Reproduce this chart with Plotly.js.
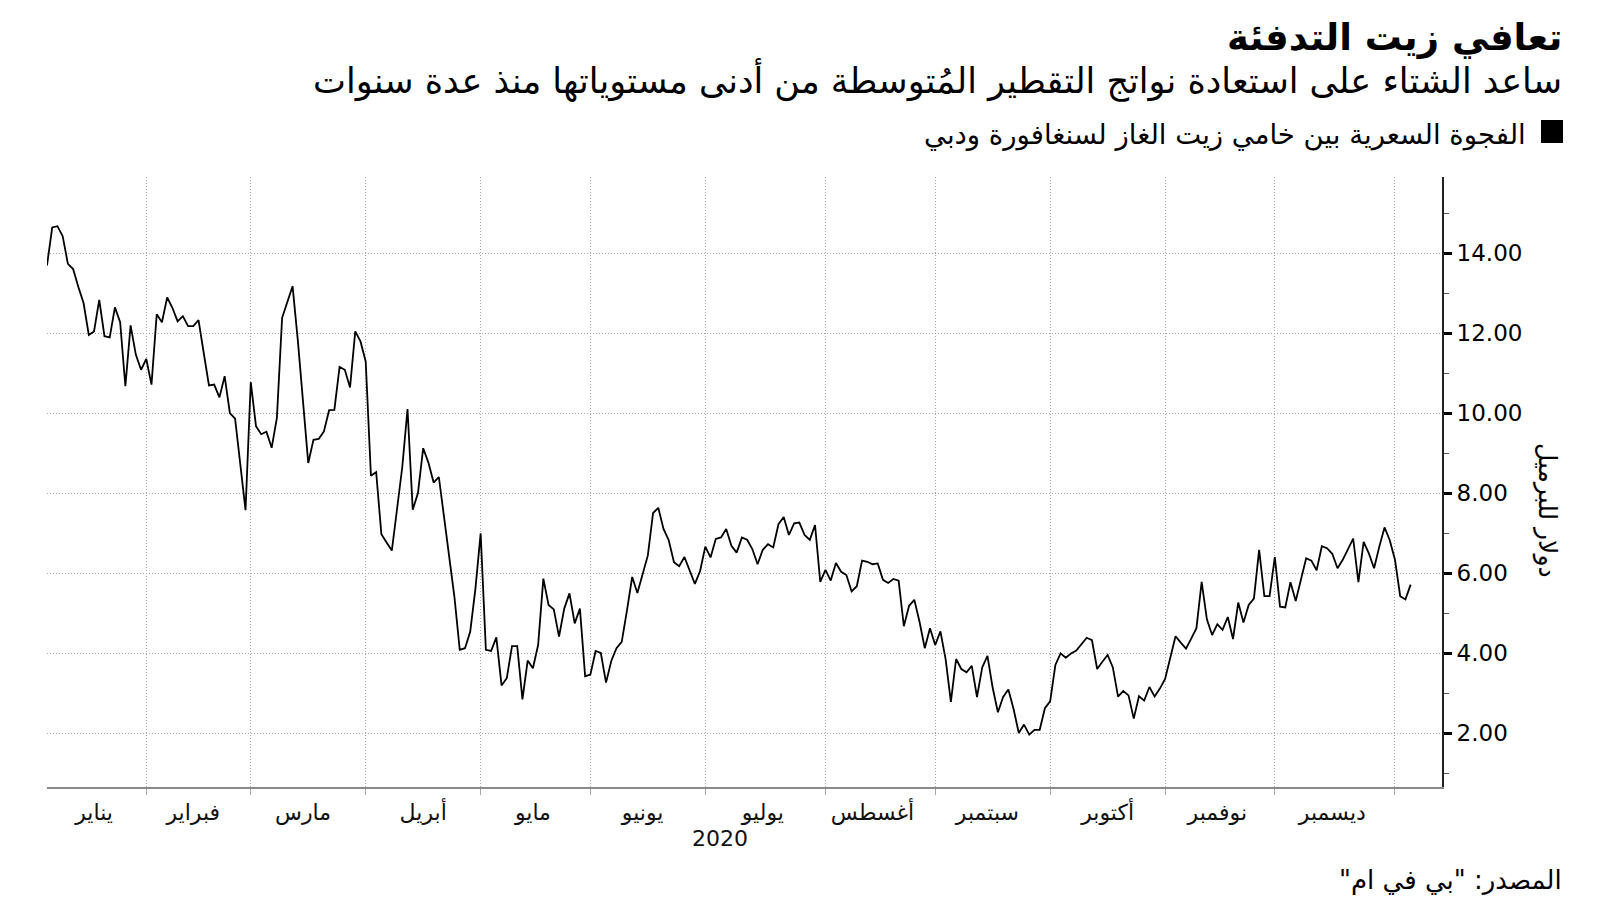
<!DOCTYPE html>
<html>
<head>
<meta charset="utf-8">
<script src="https://cdn.plot.ly/plotly-3.0.1.min.js"></script>
<style>html,body{margin:0;padding:0;background:#fff;}#chart{width:1600px;height:900px;}</style>
</head>
<body>
<div id="chart"></div>
<script>
// Singapore gasoil vs Dubai crude spread (USD/bbl), one value per trading day, starting 2020-01-07
const startDate = '2020-01-07';
const jan20 = [13.69,14.64,14.67,14.42,13.73,13.6,13.15,12.75,11.95,12.04,12.83,11.92,11.89,12.64,12.27,10.67,12.19,11.46,11.08];
const feb20 = [11.35,10.71,12.47,12.27,12.89,12.63,12.29,12.42,12.17,12.17,12.32,11.5,10.69,10.71,10.39,10.92,10.0,9.86,8.67,7.57];
const mar20 = [10.77,9.67,9.47,9.53,9.13,9.88,12.38,12.75,13.17,11.83,10.33,8.75,9.33,9.35,9.54,10.07,10.08,11.15,11.08,10.64,12.04,11.79];
const apr20 = [11.29,8.43,8.52,6.97,6.76,6.56,7.6,8.65,10.1,7.58,8.0,9.12,8.76,8.26,8.4,7.35,6.31,5.38,4.08,4.12,4.53,5.61];
const may20 = [6.99,4.08,4.05,4.39,3.19,3.37,4.17,4.17,2.84,3.81,3.62,4.2,5.86,5.2,5.09,4.41,5.11,5.49,4.74,5.11,3.42];
const jun20 = [3.46,4.05,4.0,3.26,3.8,4.12,4.28,5.06,5.9,5.5,5.95,6.44,7.5,7.63,7.1,6.82,6.27,6.17,6.4,6.04,5.73,6.05];
const jul20 = [6.66,6.39,6.85,6.89,7.1,6.68,6.51,6.89,6.83,6.6,6.22,6.58,6.72,6.64,7.22,7.4,6.95,7.24,7.26,6.95,6.83,7.2,5.78];
const aug20 = [6.08,5.81,6.25,6.03,5.95,5.54,5.67,6.31,6.28,6.22,6.24,5.83,5.75,5.85,5.81,4.67,5.18,5.33,4.78,4.12,4.62];
const sep20 = [4.2,4.54,3.84,2.78,3.85,3.6,3.52,3.68,2.9,3.64,3.93,3.13,2.52,2.9,3.09,2.6,2.0,2.21,1.96,2.08,2.08,2.62];
const oct20 = [2.79,3.7,3.99,3.88,3.99,4.06,4.22,4.38,4.32,3.6,3.78,3.95,3.64,2.91,3.05,2.94,2.36,2.92,2.81,3.15,2.91,3.11];
const nov20 = [3.35,3.85,4.42,4.26,4.11,4.36,4.62,5.78,4.84,4.45,4.72,4.58,4.9,4.35,5.26,4.76,5.2,5.36,6.58,5.42,5.42];
const dec20 = [6.4,5.16,5.14,5.77,5.3,5.84,6.37,6.31,6.07,6.67,6.62,6.48,6.12,6.33,6.58,6.86,5.77,6.78,6.49,6.12,6.66,7.14,6.82];
const jan21 = [6.33,5.42,5.34,5.71];

const monthNames = ['يناير','فبراير','مارس','أبريل','مايو','يونيو','يوليو','أغسطس','سبتمبر','أكتوبر','نوفمبر','ديسمبر'];
const monthMid = ['2020-01-20','2020-02-14','2020-03-16','2020-04-16','2020-05-15','2020-06-15','2020-07-16','2020-08-14','2020-09-15','2020-10-16','2020-11-16','2020-12-16'];
const monthStarts = ['2020-02-03','2020-03-02','2020-04-01','2020-05-01','2020-06-01','2020-07-01','2020-08-03','2020-09-01','2020-10-01','2020-11-02','2020-12-01','2021-01-01'];
const yMajor = [2,4,6,8,10,12,14];
const yMinor = [1,3,5,7,9,11,13,15];

const titleText = 'تعافي زيت التدفئة';
const subtitleText = 'ساعد الشتاء على استعادة نواتج التقطير المُتوسطة من أدنى مستوياتها منذ عدة سنوات';
const seriesName = 'الفجوة السعرية بين خامي زيت الغاز لسنغافورة ودبي';
const yTitle = 'دولار للبرميل';
const sourceText = 'المصدر: "بي في ام"';
const yearText = '2020';

const values = [].concat(jan20,feb20,mar20,apr20,may20,jun20,jul20,aug20,sep20,oct20,nov20,dec20,jan21);

function weekdays(start, n){
  const out = [];
  const d = new Date(start + 'T00:00:00Z');
  while(out.length < n){
    const w = d.getUTCDay();
    if(w !== 0 && w !== 6) out.push(d.toISOString().slice(0,10));
    d.setUTCDate(d.getUTCDate()+1);
  }
  return out;
}
const dates = weekdays(startDate, values.length);

const RLM = '\u200F';
const rtl = s => RLM + s + RLM;
const AR = 'DejaVu Sans, Noto Sans, sans-serif';
const GRID = '#a6a6a6';

const trace = {
  type:'scatter', mode:'lines', x:dates, y:values, name:seriesName,
  line:{color:'#000', width:1.8}, hoverinfo:'x+y'
};

const L = 47, R = 1442, T = 177, B = 787;
const W = R - L, H = B - T;
const px = x => (x - L)/W;
const py = y => (B - y)/H;

const layout = {
  width:1600, height:900,
  margin:{l:L, r:1600-R, t:T, b:900-B, pad:0},
  paper_bgcolor:'#fff', plot_bgcolor:'#fff',
  showlegend:false,
  xaxis:{
    type:'date',
    range:['2020-01-07','2021-01-14'],
    rangebreaks:[{bounds:['sat','mon']}],
    tickmode:'array', tickvals:monthMid, ticktext:monthNames,
    ticks:'', showgrid:false, zeroline:false,
    ticklabelstandoff:5,
    tickfont:{family:AR, size:22, color:'#111'},
    showline:true, linecolor:'#8a8a8a', linewidth:2,
    minor:{tickmode:'array', tickvals:monthStarts, showgrid:true, gridcolor:GRID, griddash:'1px,2px', gridwidth:1,
           ticks:'outside', ticklen:6, tickcolor:GRID, tickwidth:1}
  },
  yaxis:{
    side:'right', range:[0.65,15.9],
    tickmode:'array', tickvals:yMajor, tickformat:'.2f',
    showgrid:true, gridcolor:GRID, griddash:'1px,2px', gridwidth:1,
    ticks:'outside', ticklen:8, tickwidth:3, tickcolor:'#000',
    showline:true, linecolor:'#222', linewidth:2, zeroline:false,
    minor:{tickmode:'array', tickvals:yMinor, ticks:'outside', ticklen:5, tickcolor:'#555', tickwidth:1, showgrid:false},
    tickfont:{family:'DejaVu Sans', size:23, color:'#000'}
  },
  shapes:[
    {type:'rect', xref:'paper', yref:'paper', x0:px(1541), x1:px(1563), y0:py(143), y1:py(120),
     fillcolor:'#000', line:{width:0}}
  ],
  annotations:[
    {xref:'paper', yref:'paper', x:px(1564), y:py(38), xanchor:'right', yanchor:'middle', showarrow:false,
     text:'<b>'+rtl(titleText)+'</b>', font:{family:AR, size:37, color:'#000'}},
    {xref:'paper', yref:'paper', x:px(1564), y:py(80), xanchor:'right', yanchor:'middle', showarrow:false,
     text:rtl(subtitleText), font:{family:AR, size:35, color:'#000'}},
    {xref:'paper', yref:'paper', x:px(1528), y:py(134), xanchor:'right', yanchor:'middle', showarrow:false,
     text:rtl(seriesName), font:{family:AR, size:27.5, color:'#000'}},
    {xref:'paper', yref:'paper', x:px(1547), y:py(510), xanchor:'center', yanchor:'middle', showarrow:false,
     textangle:90, text:rtl(yTitle), font:{family:AR, size:25, color:'#000'}},
    {xref:'paper', yref:'paper', x:px(720), y:py(838), xanchor:'center', yanchor:'middle', showarrow:false,
     text:yearText, font:{family:AR, size:22, color:'#111'}},
    {xref:'paper', yref:'paper', x:px(1564), y:py(880), xanchor:'right', yanchor:'middle', showarrow:false,
     text:rtl(sourceText), font:{family:AR, size:26, color:'#000'}}
  ]
};

Plotly.newPlot('chart', [trace], layout, {displayModeBar:false, staticPlot:true});
</script>
</body>
</html>
